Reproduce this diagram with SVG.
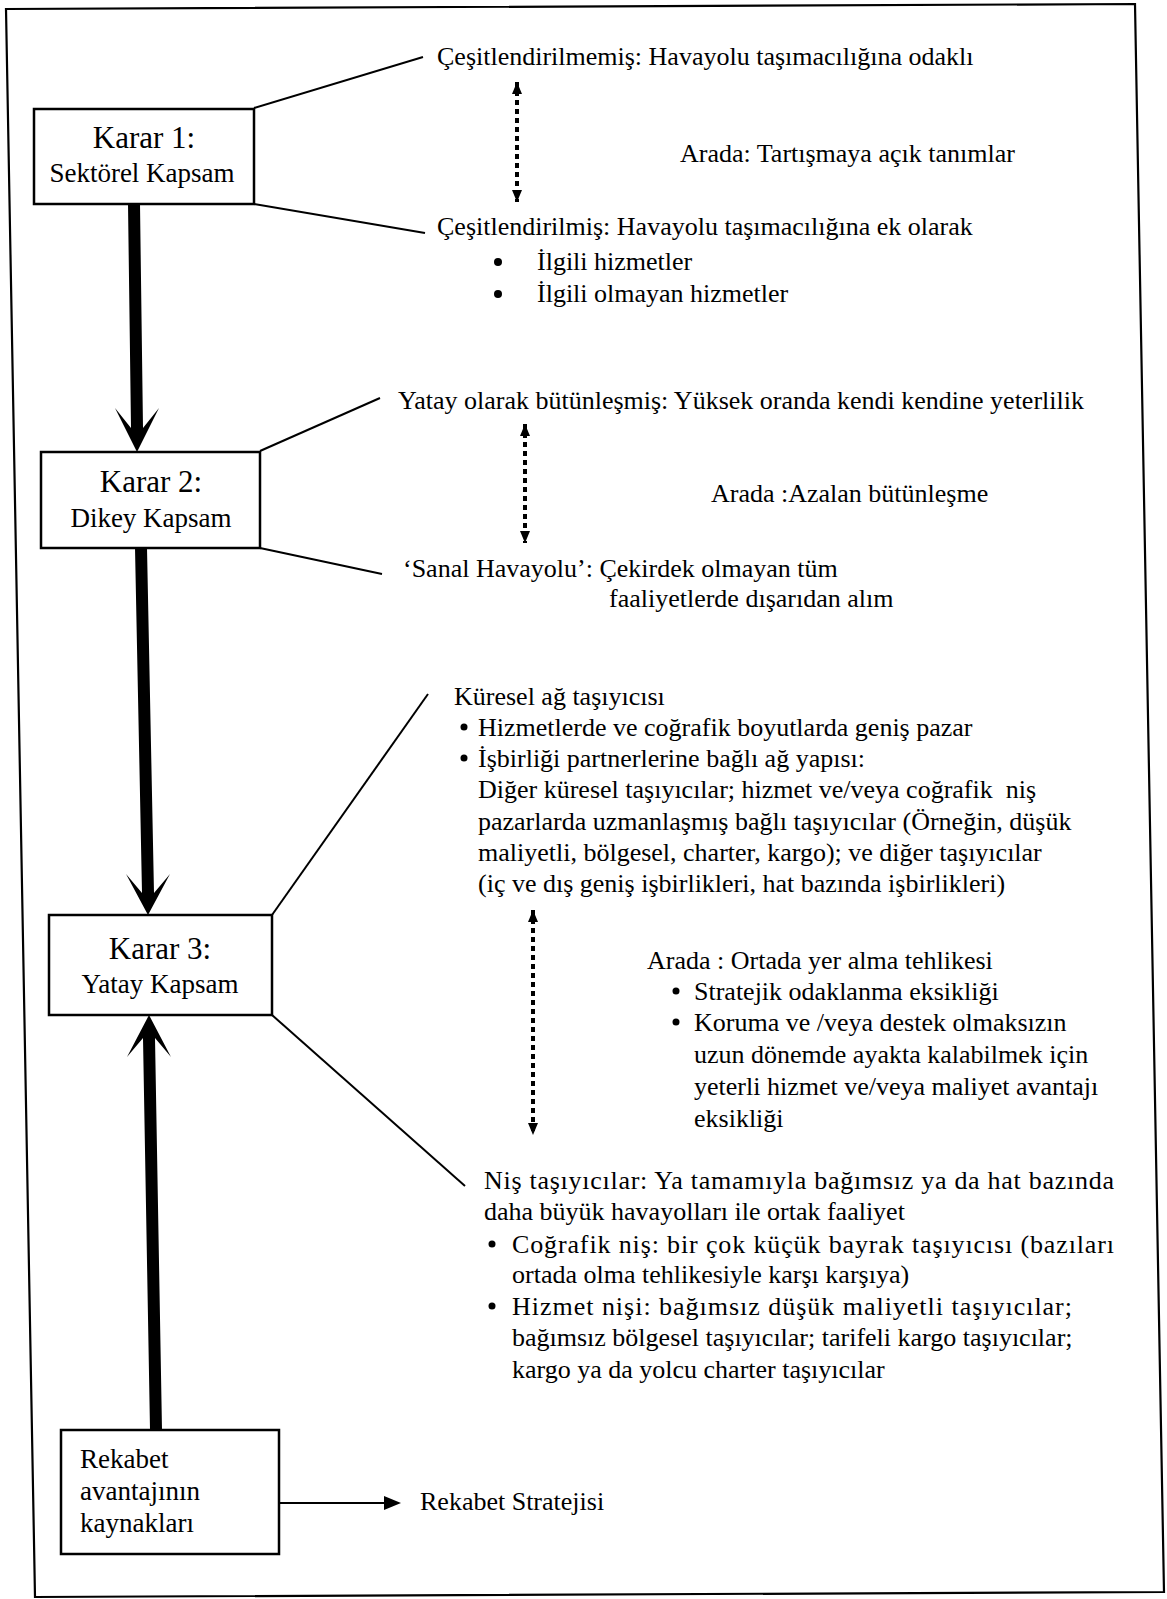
<svg xmlns="http://www.w3.org/2000/svg" width="1167" height="1599" viewBox="0 0 1167 1599">
<defs>
<style>
text{font-family:"Liberation Serif","Times New Roman",serif;fill:#000}
.t{font-size:26px}
.h{font-size:31px;text-anchor:middle}
.s{font-size:27px;text-anchor:middle}
.r{font-size:27px}
.box{fill:#fff;stroke:#000;stroke-width:2.5}
.ln{stroke:#000;stroke-width:2;fill:none}
.dot{stroke:#000;stroke-width:4;fill:none;stroke-dasharray:5 4}
.thick{fill:#000}
</style>
<marker id="ah" viewBox="0 0 12 10" refX="12" refY="5" markerWidth="12" markerHeight="10" orient="auto-start-reverse" markerUnits="userSpaceOnUse">
<path d="M0,0 L12,5 L0,10 z" fill="#000"/>
</marker>
</defs>
<rect width="1167" height="1599" fill="#fff"/>
<polygon id="frame" points="6,9 1135,4 1164,1592 35,1597" fill="none" stroke="#000" stroke-width="2.2"/>

<g id="connectors">
<line class="ln" x1="254" y1="108" x2="423" y2="57"/>
<line class="ln" x1="254" y1="204" x2="425" y2="233"/>
<line class="ln" x1="260" y1="451" x2="380" y2="398"/>
<line class="ln" x1="260" y1="548" x2="382" y2="574"/>
<line class="ln" x1="272" y1="915" x2="428" y2="694"/>
<line class="ln" x1="272" y1="1015" x2="465" y2="1186"/>
<line class="dot" x1="517" y1="82" x2="517" y2="202" marker-start="url(#ah)" marker-end="url(#ah)"/>
<line class="dot" x1="525" y1="424" x2="525" y2="543" marker-start="url(#ah)" marker-end="url(#ah)"/>
<line class="dot" x1="533" y1="910" x2="533" y2="1135" marker-start="url(#ah)" marker-end="url(#ah)"/>
<polygon class="thick" points="128,204 140,204 143,428 159,408 137,452 115,408 131,428"/>
<polygon class="thick" points="135,548 147,548 154,893 170,874 148,915 126,874 142,893"/>
<polygon class="thick" points="150,1430 162,1430 155,1038 171,1057 149,1015 127,1057 143,1038"/>
<line class="ln" x1="279" y1="1503" x2="386" y2="1503"/>
<polygon points="384,1496 401,1503 384,1510" fill="#000"/>
</g>

<g id="karar1">
<rect class="box" x="34" y="109" width="220" height="95"/>
<text class="h" x="144" y="148">Karar 1:</text>
<text class="s" x="142" y="182">Sektörel Kapsam</text>
</g>
<g id="karar2">
<rect class="box" x="41" y="452" width="219" height="96"/>
<text class="h" x="151" y="492">Karar 2:</text>
<text class="s" x="151" y="527">Dikey Kapsam</text>
</g>
<g id="karar3">
<rect class="box" x="49" y="915" width="223" height="100"/>
<text class="h" x="160" y="959">Karar 3:</text>
<text class="s" x="160" y="993">Yatay Kapsam</text>
</g>
<g id="rekabet">
<rect class="box" x="61" y="1430" width="218" height="124"/>
<text class="r" x="80" y="1468">Rekabet</text>
<text class="r" x="80" y="1500">avantajının</text>
<text class="r" x="80" y="1532">kaynakları</text>
</g>

<g id="sektorel-text">
<text class="t" x="437" y="65">Çeşitlendirilmemiş: Havayolu taşımacılığına odaklı</text>
<text class="t" x="680" y="162">Arada: Tartışmaya açık tanımlar</text>
<text class="t" x="437" y="235">Çeşitlendirilmiş: Havayolu taşımacılığına ek olarak</text>
<circle cx="498" cy="262" r="4"/>
<text class="t" x="537" y="270">İlgili hizmetler</text>
<circle cx="498" cy="294" r="4"/>
<text class="t" x="537" y="302">İlgili olmayan hizmetler</text>
</g>

<g id="dikey-text">
<text class="t" x="398" y="409">Yatay olarak bütünleşmiş: Yüksek oranda kendi kendine yeterlilik</text>
<text class="t" x="711" y="502">Arada :Azalan bütünleşme</text>
<text class="t" x="403" y="577">‘Sanal Havayolu’: Çekirdek olmayan tüm</text>
<text class="t" x="609" y="607">faaliyetlerde dışarıdan alım</text>
</g>

<g id="kuresel-text">
<text class="t" x="454" y="705">Küresel ağ taşıyıcısı</text>
<circle cx="464" cy="727" r="3.5"/>
<text class="t" x="478" y="736">Hizmetlerde ve coğrafik boyutlarda geniş pazar</text>
<circle cx="464" cy="758" r="3.5"/>
<text class="t" x="478" y="767">İşbirliği partnerlerine bağlı ağ yapısı:</text>
<text class="t" x="478" y="798" xml:space="preserve">Diğer küresel taşıyıcılar; hizmet ve/veya coğrafik  niş</text>
<text class="t" x="478" y="830">pazarlarda uzmanlaşmış bağlı taşıyıcılar (Örneğin, düşük</text>
<text class="t" x="478" y="861">maliyetli, bölgesel, charter, kargo); ve diğer taşıyıcılar</text>
<text class="t" x="478" y="892">(iç ve dış geniş işbirlikleri, hat bazında işbirlikleri)</text>
</g>

<g id="arada-text">
<text class="t" x="647" y="969">Arada : Ortada yer alma tehlikesi</text>
<circle cx="676" cy="991" r="3.5"/>
<text class="t" x="694" y="1000">Stratejik odaklanma eksikliği</text>
<circle cx="676" cy="1022" r="3.5"/>
<text class="t" x="694" y="1031">Koruma ve /veya destek olmaksızın</text>
<text class="t" x="694" y="1063">uzun dönemde ayakta kalabilmek için</text>
<text class="t" x="694" y="1095">yeterli hizmet ve/veya maliyet avantajı</text>
<text class="t" x="694" y="1127">eksikliği</text>
</g>

<g id="nis-text">
<text class="t" x="484" y="1189" textLength="630" lengthAdjust="spacing">Niş taşıyıcılar: Ya tamamıyla bağımsız ya da hat bazında</text>
<text class="t" x="484" y="1220">daha büyük havayolları ile ortak faaliyet</text>
<circle cx="492" cy="1244" r="3.5"/>
<text class="t" x="512" y="1253" textLength="602" lengthAdjust="spacing">Coğrafik niş: bir çok küçük bayrak taşıyıcısı (bazıları</text>
<text class="t" x="512" y="1283">ortada olma tehlikesiyle karşı karşıya)</text>
<circle cx="492" cy="1306" r="3.5"/>
<text class="t" x="512" y="1315" textLength="560" lengthAdjust="spacing">Hizmet nişi: bağımsız düşük maliyetli taşıyıcılar;</text>
<text class="t" x="512" y="1346">bağımsız bölgesel taşıyıcılar; tarifeli kargo taşıyıcılar;</text>
<text class="t" x="512" y="1378">kargo ya da yolcu charter taşıyıcılar</text>
</g>

<g id="strateji">
<text class="t" x="420" y="1510">Rekabet Stratejisi</text>
</g>
</svg>
